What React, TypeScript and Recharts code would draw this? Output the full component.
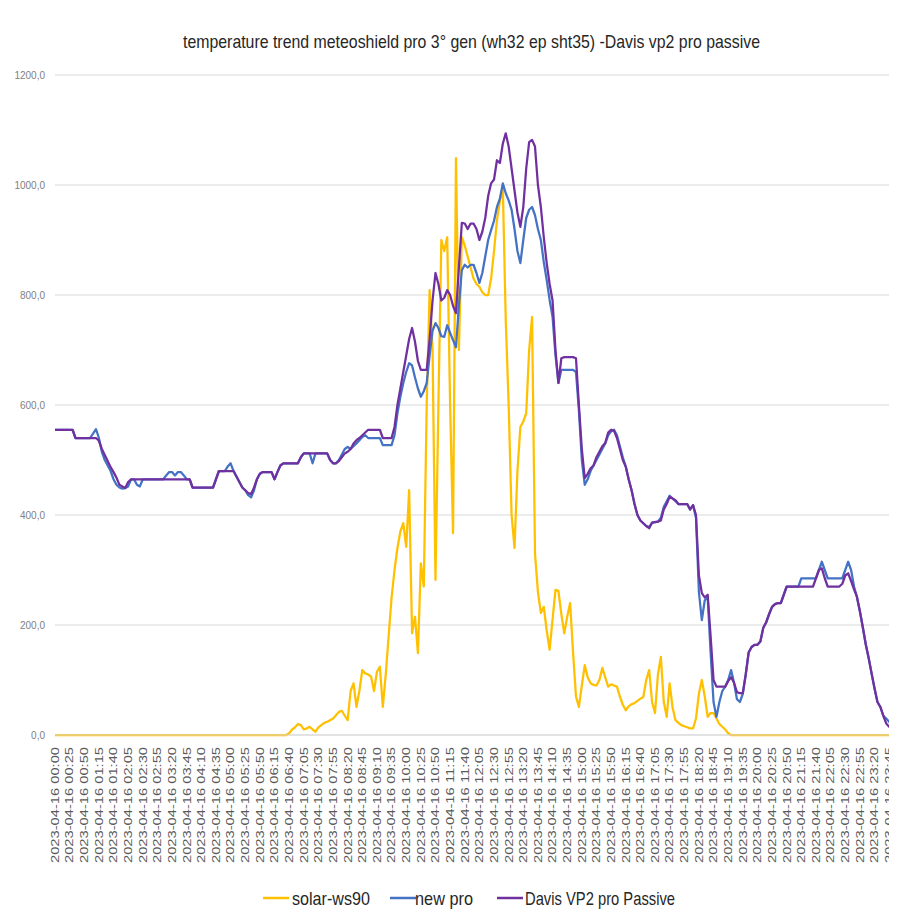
import { LineChart, Line, XAxis, YAxis, CartesianGrid } from 'recharts';

// 5-minute readings for 2023-04-16
const pad = (n: number) => String(n).padStart(2, '0');
const times: string[] = Array.from({ length: 288 }, (_, i) => {
  const m = i * 5;
  return `2023-04-16 ${pad(Math.floor(m / 60))}:${pad(m % 60)}`;
});

const solarWs90 = [
  0, 0, 0, 0, 0, 0, 0, 0, 0, 0,
  0, 0, 0, 0, 0, 0, 0, 0, 0, 0,
  0, 0, 0, 0, 0, 0, 0, 0, 0, 0,
  0, 0, 0, 0, 0, 0, 0, 0, 0, 0,
  0, 0, 0, 0, 0, 0, 0, 0, 0, 0,
  0, 0, 0, 0, 0, 0, 0, 0, 0, 0,
  0, 0, 0, 0, 0, 0, 0, 0, 0, 0,
  0, 0, 0, 0, 0, 0, 0, 0, 0, 0,
  3, 10, 14, 20, 18, 10, 12, 15, 10, 6,
  14, 18, 22, 24, 27, 30, 36, 42, 44, 35,
  27, 80, 94, 51, 80, 118, 112, 110, 106, 80,
  115, 124, 51, 110, 180, 250, 300, 340, 370, 385,
  342, 445, 185, 215, 149, 312, 270, 600, 809, 700,
  282, 600, 900, 880, 905, 600, 367, 1049, 700, 905,
  890, 870, 850, 830, 820, 815, 805, 800, 800, 830,
  880, 936, 970, 996, 755, 600, 400, 340, 480, 560,
  570, 585, 700, 760, 330, 260, 222, 233, 190, 155,
  210, 264, 262, 220, 185, 215, 240, 150, 70, 51,
  90, 127, 105, 94, 91, 90, 100, 122, 105, 88,
  92, 90, 88, 70, 55, 45, 52, 56, 58, 62,
  66, 69, 100, 118, 60, 40, 110, 142, 60, 33,
  94, 50, 27, 22, 18, 16, 14, 12, 12, 30,
  75, 100, 70, 33, 40, 40, 30, 20, 15, 10,
  3, 0, 0, 0, 0, 0, 0, 0, 0, 0,
  0, 0, 0, 0, 0, 0, 0, 0, 0, 0,
  0, 0, 0, 0, 0, 0, 0, 0, 0, 0,
  0, 0, 0, 0, 0, 0, 0, 0, 0, 0,
  0, 0, 0, 0, 0, 0, 0, 0, 0, 0,
  0, 0, 0, 0, 0, 0, 0, 0,
];

const newPro = [
  555, 555, 555, 555, 555, 555, 555, 540, 540, 540,
  540, 540, 540, 548, 556, 540, 515, 500, 490, 480,
  465, 455, 450, 448, 449, 452, 465, 465, 455, 452,
  465, 465, 465, 465, 465, 465, 465, 465, 472, 478,
  478, 472, 478, 478, 472, 465, 465, 450, 450, 450,
  450, 450, 450, 450, 450, 465, 480, 480, 480, 488,
  494, 480, 470, 460, 450, 445, 436, 432, 445, 465,
  475, 478, 478, 478, 478, 465, 478, 490, 494, 494,
  494, 494, 494, 494, 505, 512, 512, 512, 494, 512,
  512, 512, 512, 512, 500, 494, 494, 500, 510, 520,
  524, 520, 525, 530, 536, 542, 545, 540, 540, 540,
  540, 540, 527, 527, 527, 527, 545, 585, 615, 640,
  660, 676, 672, 650, 630, 615, 625, 640, 690, 735,
  749, 740, 725, 724, 745, 731, 718, 705, 780, 845,
  855, 850, 855, 855, 840, 822, 840, 870, 900, 918,
  935, 960, 975, 1003, 985, 972, 955, 920, 880, 858,
  900, 940, 955, 960, 945, 920, 900, 860, 827, 791,
  760, 690, 640, 664, 664, 664, 664, 664, 660, 590,
  500, 455, 465, 480, 490, 500, 510, 520, 530, 545,
  552, 555, 545, 525, 505, 488, 465, 445, 420, 400,
  390, 385, 380, 378, 386, 387, 388, 395, 415, 425,
  435, 430, 425, 420, 420, 420, 420, 410, 418, 395,
  260, 209, 245, 250, 150, 60, 33, 60, 80, 88,
  100, 118, 95, 65, 60, 75, 110, 150, 160, 164,
  164, 170, 195, 205, 220, 233, 238, 240, 240, 255,
  270, 270, 270, 270, 270, 285, 285, 285, 285, 285,
  285, 300, 315, 300, 285, 285, 285, 285, 285, 285,
  300, 315, 300, 270, 251, 225, 196, 165, 140, 112,
  85, 60, 51, 35, 30, 24, 15, 24,
];

const davisVp2 = [
  555, 555, 555, 555, 555, 555, 555, 540, 540, 540,
  540, 540, 540, 540, 540, 535, 520, 509, 498, 487,
  478, 468, 455, 452, 449, 460, 465, 465, 465, 465,
  465, 465, 465, 465, 465, 465, 465, 465, 465, 465,
  465, 465, 465, 465, 465, 465, 465, 450, 450, 450,
  450, 450, 450, 450, 450, 465, 480, 480, 480, 480,
  480, 480, 470, 460, 450, 445, 440, 438, 450, 465,
  475, 478, 478, 478, 478, 465, 478, 490, 494, 494,
  494, 494, 494, 494, 505, 512, 512, 512, 512, 512,
  512, 512, 512, 512, 500, 494, 494, 498, 505, 512,
  515, 520, 530, 536, 540, 545, 550, 555, 555, 555,
  555, 555, 540, 540, 540, 540, 560, 600, 630, 660,
  690, 720, 740, 715, 680, 664, 664, 664, 720, 790,
  840, 820, 790, 795, 809, 800, 780, 767, 850, 931,
  930, 920, 930, 930, 920, 900, 915, 940, 980, 1003,
  1010, 1045, 1040, 1075, 1094, 1070, 1030, 990, 950, 924,
  960, 1030, 1078, 1082, 1070, 1000, 960, 905, 858, 820,
  790, 700, 640, 685, 687, 687, 687, 687, 685, 600,
  520, 467, 475, 485, 490, 505, 515, 525, 531, 550,
  555, 553, 540, 520, 500, 488, 465, 445, 420, 400,
  390, 385, 380, 376, 386, 387, 388, 390, 410, 420,
  433, 430, 427, 420, 420, 420, 420, 410, 418, 400,
  290, 258, 250, 255, 180, 100, 88, 88, 88, 88,
  98, 105, 95, 78, 76, 76, 110, 150, 160, 164,
  164, 170, 195, 205, 220, 233, 238, 240, 240, 255,
  270, 270, 270, 270, 270, 270, 270, 270, 270, 270,
  285, 300, 303, 285, 270, 270, 270, 270, 270, 275,
  290, 294, 280, 265, 251, 225, 196, 165, 140, 112,
  85, 60, 51, 35, 21, 15, 13, 13,
];

const yTicks = [0, 200, 400, 600, 800, 1000, 1200];

const seriesInfo = [
  { key: 'solar', name: 'solar-ws90', color: '#FFC000' },
  { key: 'newPro', name: 'new pro', color: '#4472C4' },
  { key: 'davis', name: 'Davis VP2 pro Passive', color: '#7030A0' },
];

const chartData = times.map((t, i) => ({
  time: t,
  solar: solarWs90[i],
  newPro: newPro[i],
  davis: davisVp2[i],
}));

const FONT = "'Liberation Sans', Arial, sans-serif";

const TimeTick = ({ x, y, payload }: any) => (
  <text
    x={x}
    y={y}
    transform={`rotate(-90, ${x}, ${y})`}
    textAnchor="end"
    dy="0.35em"
    fontSize={11}
    fontFamily={FONT}
    fill="#595959"
    textLength={116}
    lengthAdjust="spacingAndGlyphs"
  >
    {payload.value}
  </text>
);

const legendItems = [
  { swatch: 255, text: 284, len: 78 },
  { swatch: 382, text: 407, len: 58 },
  { swatch: 489, text: 517, len: 150 },
];

export default function App() {
  return (
    <div style={{ position: 'relative', width: 889, height: 907, background: '#fff' }}>
      <LineChart
        width={889}
        height={870}
        data={chartData}
        margin={{ top: 67, right: 2, left: 0, bottom: 0 }}
        style={{ overflow: 'visible' }}
      >
        <CartesianGrid vertical={false} stroke="#D9D9D9" />
        <XAxis
          dataKey="time"
          interval={4}
          height={143}
          tickLine={false}
          tickSize={0}
          tickMargin={12}
          stroke="#D9D9D9"
          tick={<TimeTick />}
        />
        <YAxis
          width={47}
          domain={[0, 1200]}
          ticks={yTicks}
          axisLine={false}
          tickLine={false}
          tickSize={0}
          tickMargin={10}
          tickFormatter={(v: number) => v.toFixed(1).replace('.', ',')}
          tick={{ fontSize: 10, fill: '#7F7F7F', fontFamily: FONT }}
        />
        {seriesInfo.map((s) => (
          <Line
            key={s.key}
            type="linear"
            dataKey={s.key}
            name={s.name}
            stroke={s.color}
            strokeWidth={2.25}
            strokeLinejoin="round"
            dot={false}
            isAnimationActive={false}
          />
        ))}
      </LineChart>
      <svg
        width={889}
        height={907}
        style={{ position: 'absolute', left: 0, top: 0, pointerEvents: 'none' }}
      >
        <text
          x={175}
          y={40}
          fontSize={19}
          fontFamily={FONT}
          fill="#262626"
          textLength={577}
          lengthAdjust="spacingAndGlyphs"
        >
          temperature trend meteoshield pro 3° gen (wh32 ep sht35) -Davis vp2 pro passive
        </text>
        {seriesInfo.map((s, i) => (
          <g key={s.key}>
            <line
              x1={legendItems[i].swatch}
              x2={legendItems[i].swatch + 26}
              y1={890}
              y2={890}
              stroke={s.color}
              strokeWidth={2.5}
            />
            <text
              x={legendItems[i].text}
              y={897}
              fontSize={19}
              fontFamily={FONT}
              fill="#262626"
              textLength={legendItems[i].len}
              lengthAdjust="spacingAndGlyphs"
            >
              {s.name}
            </text>
          </g>
        ))}
      </svg>
    </div>
  );
}
